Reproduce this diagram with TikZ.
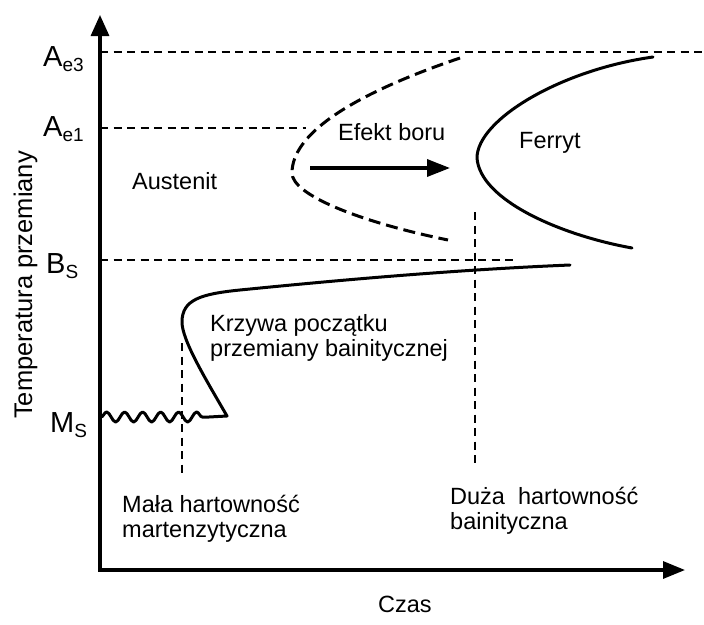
\documentclass[tikz,border=0pt]{standalone}
\usepackage{fontspec}
\setmainfont{Liberation Sans}
\usetikzlibrary{arrows.meta,decorations.pathmorphing}
\begin{document}
\begin{tikzpicture}[x=1pt,y=-1pt,
  axisline/.style={line width=3.2pt,line join=miter},
  guide/.style={line width=1.4pt,dash pattern=on 8pt off 5.5pt},
  curve/.style={line width=3pt,line join=round,line cap=round},
  dcurve/.style={line width=3pt,dash pattern=on 12pt off 6pt},
  lbl/.style={inner sep=0pt,font=\fontsize{23.5}{25}\selectfont},
  sym/.style={inner sep=0pt,font=\fontsize{29}{29}\selectfont},
]
\useasboundingbox (0,0) rectangle (704,624);
\newcommand{\subtxt}[1]{\raisebox{-5pt}{\fontsize{19}{19}\selectfont #1}}

% axes
\coordinate (O) at (100,570);
\coordinate (ytip) at (100,15);
\coordinate (xtip) at (685,570);
\draw[axisline,{Triangle[length=21pt,width=18pt]}-{Triangle[length=22pt,width=17pt]}] (ytip) -- (O) -- (xtip);

% guide lines
\coordinate (ae3L) at (100,52);  \coordinate (ae3R) at (702,52);
\coordinate (ae1L) at (100,128); \coordinate (ae1R) at (306,128);
\coordinate (bsL) at (100,260);  \coordinate (bsR) at (515,260);
\coordinate (v1T) at (182,343);  \coordinate (v1B) at (182,473);
\coordinate (v2T) at (475,212);  \coordinate (v2B) at (475,466);
\draw[guide] (ae3L) -- (ae3R);
\draw[guide] (ae1L) -- (ae1R);
\draw[guide] (bsL) -- (bsR);
\draw[guide] (v1T) -- (v1B);
\draw[guide] (v2T) -- (v2B);

% boron-shifted (dashed) curve
\coordinate (dTop) at (460,58);
\coordinate (dTip) at (292,173);
\coordinate (dBot) at (448,240);
\draw[dcurve] (dTop) .. controls (348,96) and (292,135) .. (dTip)
  .. controls (292,195) and (360,222) .. (dBot);

% ferrite curve
\coordinate (fTop) at (653,57);
\coordinate (fTip) at (477,158);
\coordinate (fBot) at (632,248);
\draw[curve] (fTop) .. controls (560,70) and (477,120) .. (fTip)
  .. controls (480,200) and (560,235) .. (fBot);

% arrow "Efekt boru"
\coordinate (efS) at (310,168);
\coordinate (efE) at (450,168);
\draw[line width=3.5pt,-{Triangle[length=23pt,width=17pt]}] (efS) -- (efE);

% bainite start curve with martensite wave
\coordinate (wS) at (101,417);
\coordinate (wE) at (209,417);
\coordinate (bLow) at (227,416);
\coordinate (bLeft) at (182,322);
\coordinate (bBend) at (240,290);
\coordinate (bEnd) at (570,265);
\draw[curve] (wS) decorate[decoration={snake,segment length=18pt,amplitude=5pt}] { -- (wE) } -- (bLow)
  .. controls (205,378) and (182,340) .. (bLeft)
  .. controls (182,300) and (200,294) .. (bBend)
  .. controls (330,281) and (450,270) .. (bEnd);

% labels
\node[sym,anchor=base west] (Ae3) at (43,66) {A\subtxt{e3}};
\node[sym,anchor=base west] (Ae1) at (43,136) {A\subtxt{e1}};
\node[sym,anchor=base west] (Bs) at (46,273) {B\subtxt{S}};
\node[sym,anchor=base west] (Ms) at (50,432) {M\subtxt{S}};

\node[inner sep=0pt,font=\fontsize{25.5}{25.5}\selectfont,rotate=90,anchor=base] (ylab) at (32,285) {Temperatura przemiany};
\node[lbl,anchor=base west] (czas) at (378,612) {Czas};
\node[lbl,anchor=base west] (aust) at (132,189) {Austenit};
\node[lbl,anchor=base west] (efekt) at (338,140) {Efekt boru};
\node[lbl,anchor=base west] (ferryt) at (519,148) {Ferryt};
\node[lbl,anchor=north west,align=left] (krzywa) at (210,314) {Krzywa początku\\przemiany bainitycznej};
\node[lbl,anchor=north west,align=left] (mala) at (122,495) {Mała hartowność\\martenzytyczna};
\node[lbl,anchor=north west,align=left] (duza) at (450,487) {Duża~~hartowność\\bainityczna};
\end{tikzpicture}
\end{document}
